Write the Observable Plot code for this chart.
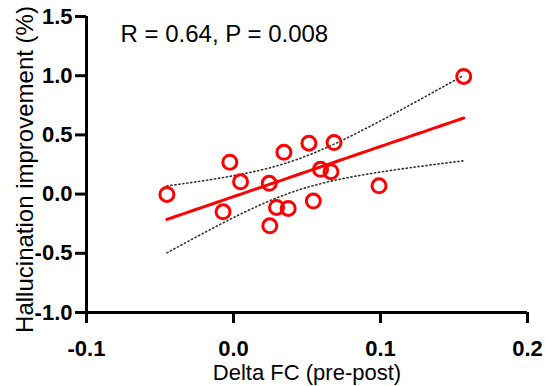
<!DOCTYPE html>
<html><head><meta charset="utf-8">
<script src="https://cdn.jsdelivr.net/npm/d3@7"></script>
<script src="https://cdn.jsdelivr.net/npm/@observablehq/plot@0.6"></script>
<style>body{margin:0;background:#fff;font-family:Arial,"Liberation Sans",sans-serif}</style>
</head><body><div id="chart"></div>
<script>
const deltaFC = [-0.0453, -0.0025, 0.0048, -0.0071, 0.0243, 0.0343, 0.0293, 0.0372, 0.0247, 0.0513, 0.0684, 0.0543, 0.0592, 0.0663, 0.0990, 0.1566];
const improvement = [-0.003, 0.269, 0.104, -0.150, 0.091, 0.353, -0.113, -0.121, -0.268, 0.430, 0.435, -0.059, 0.209, 0.189, 0.070, 0.994];
const xTicks = [-0.1, 0.0, 0.1, 0.2];
const yTicks = [-1.0, -0.5, 0.0, 0.5, 1.0, 1.5];
const statText = "R = 0.64, P = 0.008";
const xLabel = "Delta FC (pre-post)";
const yLabel = "Hallucination improvement (%)";

const pts = deltaFC.map((x, i) => ({x, y: improvement[i]}));
// linear regression + 95% CI of the mean
const n = pts.length;
const mx = d3.mean(pts, d => d.x), my = d3.mean(pts, d => d.y);
const sxx = d3.sum(pts, d => (d.x - mx) ** 2);
const sxy = d3.sum(pts, d => (d.x - mx) * (d.y - my));
const b = sxy / sxx, a = my - b * mx;
const sse = d3.sum(pts, d => (d.y - a - b * d.x) ** 2);
const s = Math.sqrt(sse / (n - 2));
const t = 2.145;
const [x0, x1] = d3.extent(deltaFC);
const grid = d3.range(0, 61).map(i => x0 + (x1 - x0) * i / 60);
const fit = grid.map(x => {
  const yh = a + b * x;
  const se = s * Math.sqrt(1 / n + (x - mx) ** 2 / sxx);
  return {x, y: yh, lo: yh - t * se, hi: yh + t * se};
});

const font = "Arial, 'Liberation Sans', sans-serif";
const chart = Plot.plot({
  width: 545, height: 386,
  marginLeft: 86, marginRight: 18, marginTop: 16, marginBottom: 74,
  style: {fontFamily: font, background: "#fff"},
  x: {domain: [-0.1, 0.2]},
  y: {domain: [-1.0, 1.5]},
  marks: [
    Plot.line(fit, {x: "x", y: "hi", stroke: "#333", strokeWidth: 1.6, strokeDasharray: "1.2,2.8"}),
    Plot.line(fit, {x: "x", y: "lo", stroke: "#333", strokeWidth: 1.6, strokeDasharray: "1.2,2.8"}),
    Plot.line(fit, {x: "x", y: "y", stroke: "#ff0000", strokeWidth: 3}),
    Plot.dot(pts, {x: "x", y: "y", r: 7, stroke: "#ff0000", strokeWidth: 3, fill: "none"}),
    Plot.ruleX([-0.1], {stroke: "#000", strokeWidth: 3}),
    Plot.ruleY([-1.0], {stroke: "#000", strokeWidth: 3}),
    Plot.axisX({ticks: xTicks, tickSize: 11, tickPadding: 17, strokeWidth: 3, stroke: "#000",
      tickFormat: d => d.toFixed(1), fontSize: 22, fontWeight: "bold", fill: "#000", label: null}),
    Plot.axisY({ticks: yTicks, tickSize: 11, tickPadding: 3, strokeWidth: 3, stroke: "#000",
      tickFormat: d => d.toFixed(1), fontSize: 22, fontWeight: "bold", fill: "#000", label: null}),
    Plot.text([xLabel], {frameAnchor: "bottom", dy: 67, fontSize: 22, fill: "#000", textAnchor: "middle", lineAnchor: "bottom"}),
    Plot.text([yLabel], {frameAnchor: "left", dx: -54, dy: 5, rotate: -90, fontSize: 24, fill: "#000", textAnchor: "middle", lineAnchor: "bottom"}),
    Plot.text([statText], {frameAnchor: "top-left", dx: 34, dy: 25, textAnchor: "start", lineAnchor: "bottom", fontSize: 24, fill: "#000"})
  ]
});
document.getElementById("chart").appendChild(chart);
</script></body></html>
